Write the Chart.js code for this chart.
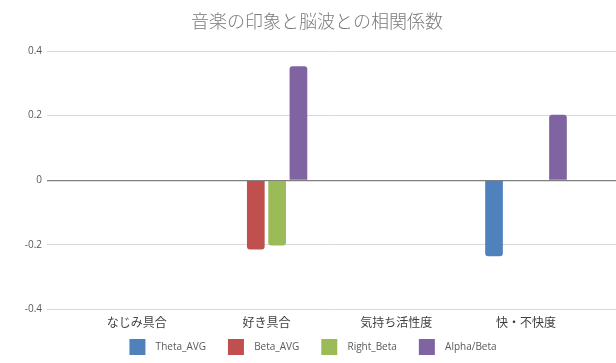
<!DOCTYPE html>
<html><head><meta charset="utf-8">
<script src="https://cdn.jsdelivr.net/npm/chart.js@4/dist/chart.umd.min.js"></script>
<style>html,body{margin:0;padding:0;background:#fff}#wrap{width:616px;height:363px}</style>
</head><body><div id="wrap"><canvas id="c" width="616" height="363"></canvas></div>
<script>
const categories = ['なじみ具合', '好き具合', '気持ち活性度', '快・不快度'];
const thetaAvg  = [null, null, null, -0.235];
const betaAvg   = [null, -0.214, null, null];
const rightBeta = [null, -0.202, null, null];
const alphaBeta = [null, 0.353, null, 0.203];
const yTicks = [-0.4, -0.2, 0, 0.2, 0.4];
const seriesNames = ['Theta_AVG', 'Beta_AVG', 'Right_Beta', 'Alpha/Beta'];
const colors = ['#4F81BD', '#C0504D', '#9BBB59', '#8064A2'];

const toPts = arr => arr.map((v, i) => ({x: i, y: v}));
const seriesData = [thetaAvg, betaAvg, rightBeta, alphaBeta];

const latin = '"Open Sans", "Noto Sans CJK JP", sans-serif';
const cjk = '"Noto Sans CJK JP", "Open Sans", sans-serif';

const legendTweak = {
  id: 'legendTweak',
  afterInit(chart) {
    const lg = chart.legend;
    if (!lg) return;
    const orig = lg.fit.bind(lg);
    lg.fit = function() { orig(); this.height = 27; };
  },
  afterLayout(chart) {
    const lg = chart.legend;
    if (lg) {
      lg.top = 317; lg.bottom = 363; lg.height = 46;
      lg.left += 5; lg.right += 5;
    }
    const tb = chart.titleBlock;
    if (tb) { tb.left += 9; tb.right += 9; }
  }
};

new Chart(document.getElementById('c'), {
  type: 'bar',
  plugins: [legendTweak],
  data: {
    datasets: seriesData.map((d, i) => ({
      label: seriesNames[i],
      data: toPts(d),
      backgroundColor: colors[i],
      borderWidth: 0,
      borderRadius: 3,
      categoryPercentage: 0.657,
      barPercentage: 0.83
    }))
  },
  options: {
    responsive: false,
    animation: false,
    layout: {padding: {left: 0, right: 0, top: 0, bottom: 0}},
    plugins: {
      title: {
        display: true,
        text: '音楽の印象と脳波との相関係数',
        color: '#7a7a7a',
        font: {family: cjk, size: 18, weight: 300},
        padding: {top: 10, bottom: 19.4}
      },
      legend: {
        position: 'bottom',
        labels: {
          boxWidth: 16, boxHeight: 16,
          padding: 22,
          color: '#595959',
          font: {family: latin, size: 10},
          generateLabels: (chart) => Chart.defaults.plugins.legend.labels.generateLabels(chart).map(l => ({...l, text: '  ' + l.text, lineWidth: 0}))
        }
      },
      tooltip: {enabled: false}
    },
    scales: {
      x: {
        type: 'linear',
        offset: false,
        min: -0.6912,
        max: 3.6935,
        afterBuildTicks: (s) => { s.ticks = categories.map((c, i) => ({value: i})); },
        ticks: {
          callback: (v) => categories[v],
          color: '#404040',
          font: {family: cjk, size: 12},
          padding: 6,
          maxRotation: 0,
          autoSkip: false
        },
        grid: {display: false, drawTicks: false},
        border: {display: false}
      },
      y: {
        min: -0.4, max: 0.4,
        afterBuildTicks: (s) => { s.ticks = yTicks.map(v => ({value: v})); },
        afterFit: (s) => { s.width = 47; },
        ticks: {
          callback: (v) => String(v),
          color: '#595959',
          font: {family: latin, size: 10},
          padding: 5
        },
        grid: {
          drawTicks: false,
          color: (ctx) => ctx.tick && ctx.tick.value === 0 ? '#7f7f7f' : '#d9d9d9',
          lineWidth: (ctx) => ctx.tick && ctx.tick.value === 0 ? 1.3 : 1
        },
        border: {display: false}
      }
    }
  }
});
</script>
</body></html>
